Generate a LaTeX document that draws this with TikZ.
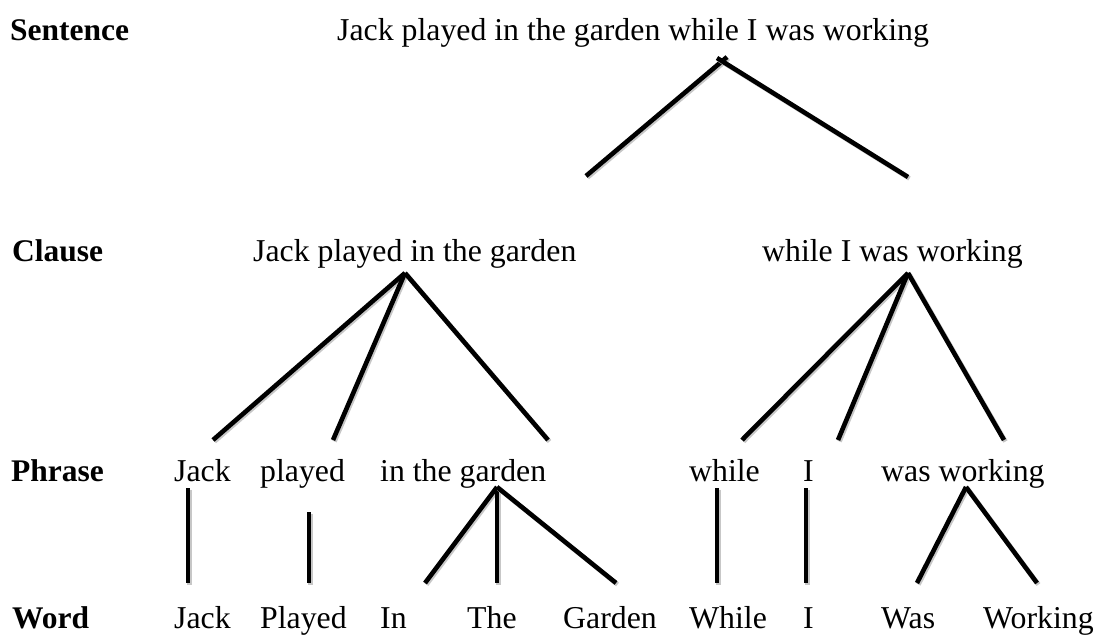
\documentclass[tikz,border=0pt]{standalone}
\usepackage{fontspec}
\setmainfont{Liberation Serif}
\begin{document}
\begin{tikzpicture}[x=1pt,y=-1pt,
  lbl/.style={anchor=base west, inner sep=0pt, font=\fontsize{31.8}{36}\selectfont},
  hd/.style={anchor=base west, inner sep=0pt, font=\fontsize{31.5}{36}\selectfont\bfseries},
  br/.style={line width=4.6pt,
    preaction={draw=black!22, line width=4.6pt, transform canvas={shift={(1.5,1.5)}}}}]
\useasboundingbox (0,0) rectangle (1096,635);

% row labels
\node[hd] (lS) at (10,40.5) {Sentence};
\node[hd] (lC) at (12,261) {Clause};
\node[hd] (lP) at (11,481) {Phrase};
\node[hd] (lW) at (12,628) {Word};

% sentence & clauses
\node[lbl] (s)  at (337,40.5) {Jack played in the garden while I was working};
\node[lbl] (c1) at (253,261) {Jack played in the garden};
\node[lbl] (c2) at (762,261) {while I was working};

% phrases
\node[lbl] (p1) at (174,481) {Jack};
\node[lbl] (p2) at (260,481) {played};
\node[lbl] (p3) at (380,481) {in the garden};
\node[lbl] (p4) at (689,481) {while};
\node[lbl] (p5) at (803,481) {I};
\node[lbl] (p6) at (881,481) {was working};

% words
\node[lbl] (w1) at (174,628) {Jack};
\node[lbl] (w2) at (260,628) {Played};
\node[lbl] (w3) at (380,628) {In};
\node[lbl] (w4) at (467,628) {The};
\node[lbl] (w5) at (563,628) {Garden};
\node[lbl] (w6) at (689,628) {While};
\node[lbl] (w7) at (803,628) {I};
\node[lbl] (w8) at (881,628) {Was};
\node[lbl] (w9) at (983,628) {Working};

% branch points
\coordinate (sA) at (727,57);
\coordinate (sB) at (717,58);
\coordinate (sL) at (586,176);
\coordinate (sR) at (908,177);

\coordinate (c1a) at (405,273);
\coordinate (c1p1) at (213,440);
\coordinate (c1p2) at (333,440);
\coordinate (c1p3) at (548,440);

\coordinate (c2a) at (908,273);
\coordinate (c2p4) at (742,440);
\coordinate (c2p5) at (838,440);
\coordinate (c2p6) at (1004,440);

\coordinate (p1t) at (188,488);  \coordinate (p1b) at (188,583);
\coordinate (p2t) at (309,512);  \coordinate (p2b) at (309,583);
\coordinate (p3a) at (497,487);
\coordinate (p3w3) at (425,583);
\coordinate (p3w4) at (497,583);
\coordinate (p3w5) at (616,583);
\coordinate (p4t) at (717,488);  \coordinate (p4b) at (717,583);
\coordinate (p5t) at (806,488);  \coordinate (p5b) at (806,583);
\coordinate (p6a) at (966,487);
\coordinate (p6w8) at (917,583);
\coordinate (p6w9) at (1037,583);

% connectors
\draw[br] (sL) -- (sA);
\draw[br] (sB) -- (sR);

\draw[br] (c1a) -- (c1p1);
\draw[br] (c1a) -- (c1p2);
\draw[br] (c1a) -- (c1p3);

\draw[br] (c2a) -- (c2p4);
\draw[br] (c2a) -- (c2p5);
\draw[br] (c2a) -- (c2p6);

\draw[br] (p1t) -- (p1b);
\draw[br] (p2t) -- (p2b);
\draw[br] (p3a) -- (p3w3);
\draw[br] (p3a) -- (p3w4);
\draw[br] (p3a) -- (p3w5);
\draw[br] (p4t) -- (p4b);
\draw[br] (p5t) -- (p5b);
\draw[br] (p6a) -- (p6w8);
\draw[br] (p6a) -- (p6w9);
\end{tikzpicture}
\end{document}
